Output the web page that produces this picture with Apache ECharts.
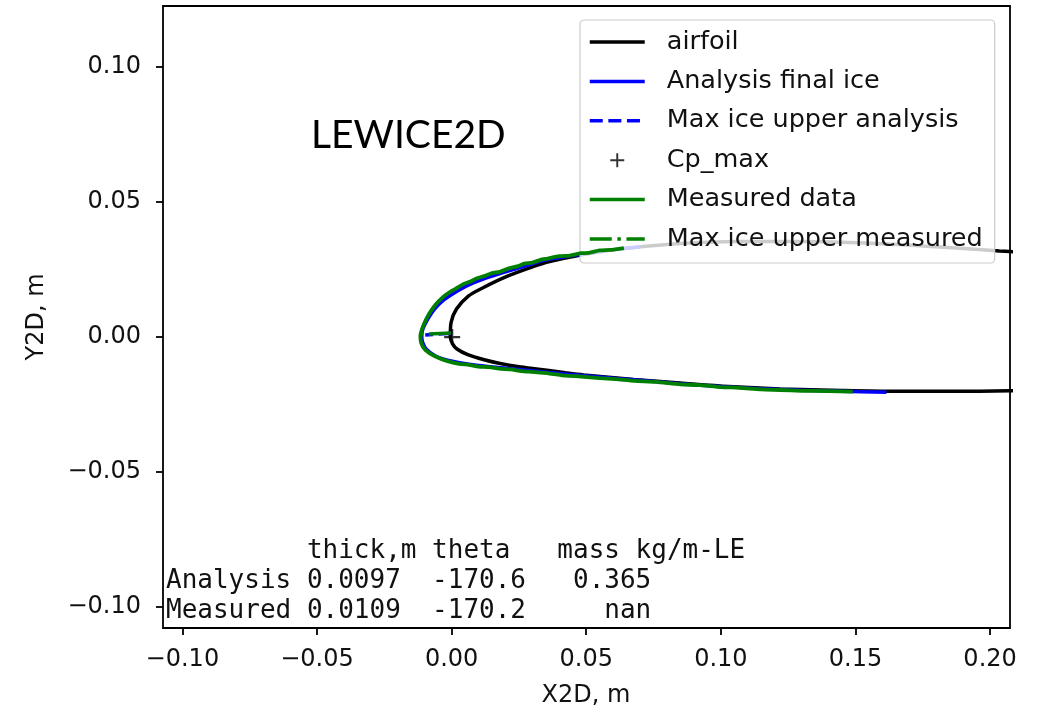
<!DOCTYPE html>
<html>
<head>
<meta charset="utf-8">
<script src="https://cdn.jsdelivr.net/npm/echarts@6/dist/echarts.min.js"></script>
<style>
  html, body { margin: 0; padding: 0; background: #fff; }
  #chart { width: 1040px; height: 711px; }
</style>
</head>
<body>
<div id="chart"></div>
<script>
// Clean airfoil contour, [x, y] in metres: upper surface aft -> leading edge -> lower surface aft
const airfoil = [
  [0.215, 0.0312], [0.2035, 0.0317], [0.180, 0.0333], [0.155, 0.0346], [0.1306, 0.0352],
  [0.1059, 0.0352], [0.0813, 0.0342], [0.0628, 0.0325], [0.048, 0.0302], [0.036, 0.0277],
  [0.030, 0.0258], [0.0201, 0.0221], [0.0115, 0.0180], [0.0062, 0.0150], [0.0018, 0.0102],
  [-0.0002, 0.0052], [-0.0005, 0.0000], [0.0003, -0.0026], [0.0020, -0.0046],
  [0.0060, -0.0067], [0.0121, -0.0086], [0.0176, -0.0099], [0.0257, -0.0113], [0.030, -0.0118],
  [0.0423, -0.0134], [0.049, -0.0142], [0.0676, -0.0159], [0.0849, -0.0172], [0.103, -0.0185],
  [0.122, -0.0194], [0.145, -0.0200], [0.165, -0.0203], [0.185, -0.0203], [0.2074, -0.0201],
  [0.215, -0.0200]
];

// LEWICE2D final ice shape
const analysisIce = [
  [0.070, 0.0333], [0.060, 0.0322], [0.048, 0.0305], [0.036, 0.0286], [0.030, 0.0270],
  [0.0201, 0.0240], [0.0115, 0.0212], [0.0060, 0.0190], [0.0020, 0.0168], [-0.0030, 0.0135],
  [-0.0065, 0.0100], [-0.0090, 0.0062], [-0.0106, 0.0030], [-0.0111, 0.0005], [-0.0108, -0.0020],
  [-0.0093, -0.0048], [-0.0060, -0.0072], [-0.0015, -0.0088], [0.0030, -0.0097], [0.0100, -0.0107],
  [0.0176, -0.0115], [0.030, -0.0127], [0.0423, -0.0139], [0.055, -0.0150], [0.070, -0.0162],
  [0.085, -0.0175], [0.100, -0.0185], [0.115, -0.0193], [0.130, -0.0199], [0.145, -0.0203],
  [0.1615, -0.0206]
];

// Maximum ice thickness direction, analysis
const maxIceAnalysis = [[0.0000, 0.0012], [-0.0098, 0.0006]];

// Stagnation point (Cp max)
const cpMax = [[0.0002, -0.0002]];

// Measured (scanned) ice tracing
const measuredIce = [
  [0.064, 0.0328], [0.059, 0.0321], [0.055, 0.0319], [0.051, 0.0310], [0.048, 0.0309],
  [0.044, 0.0300], [0.040, 0.0298], [0.0356, 0.0289], [0.033, 0.0284], [0.030, 0.0274],
  [0.027, 0.0270], [0.0244, 0.0260], [0.021, 0.0252], [0.018, 0.0240], [0.015, 0.0235],
  [0.0121, 0.0224], [0.0095, 0.0216], [0.0070, 0.0204], [0.0045, 0.0195], [0.0020, 0.0180],
  [-0.0005, 0.0166], [-0.0030, 0.0148], [-0.0060, 0.0118], [-0.0085, 0.0082], [-0.0103, 0.0046],
  [-0.0113, 0.0018], [-0.0116, 0.0002], [-0.0113, -0.0024], [-0.0097, -0.0050], [-0.0060, -0.0074],
  [-0.0015, -0.0091], [0.0028, -0.0101], [0.0065, -0.0105], [0.0100, -0.0111], [0.0140, -0.0113],
  [0.0176, -0.0119], [0.022, -0.0122], [0.026, -0.0128], [0.030, -0.0131], [0.036, -0.0136],
  [0.0423, -0.0145], [0.048, -0.0148], [0.055, -0.0154], [0.061, -0.0158], [0.068, -0.0164],
  [0.076, -0.0168], [0.085, -0.0177], [0.092, -0.0180], [0.100, -0.0187], [0.107, -0.0190],
  [0.115, -0.0196], [0.122, -0.0198], [0.130, -0.0201], [0.140, -0.0202], [0.149, -0.0204]
];

// Maximum ice thickness direction, measured
const maxIceMeasured = [[-0.0003, 0.0013], [-0.0110, 0.0008]];

const xTicks = [-0.10, -0.05, 0.00, 0.05, 0.10, 0.15, 0.20];
const yTicks = [-0.10, -0.05, 0.00, 0.05, 0.10];

const legendNames = ['airfoil', 'Analysis final ice', 'Max ice upper analysis', 'Cp_max', 'Measured data', 'Max ice upper measured'];

const tableLines = [
  '         thick,m theta   mass kg/m-LE',
  'Analysis 0.0097  -170.6   0.365',
  'Measured 0.0109  -170.2     nan'
];

const titleText = 'LEWICE2D';

function tickFmt(v) {
  const s = Math.abs(v).toFixed(2);
  return (v < -1e-9 ? '\u2212' : '') + s;
}

const chart = echarts.init(document.getElementById('chart'), null, { renderer: 'canvas' });

const LW = 3.5;
const axisFont = { fontFamily: 'DejaVu Sans', fontSize: 24, color: '#111' };
const plusPath = 'path://M0.43,0 H0.57 V0.43 H1 V0.57 H0.57 V1 H0.43 V0.57 H0 V0.43 H0.43 Z';

// legend entries: line entries show only their stroke, the stagnation point shows its '+' marker
const legendData = legendNames.map(function (n) {
  return n === 'Cp_max'
    ? { name: n }
    : { name: n, itemStyle: { opacity: 0 }, lineStyle: { width: LW } };
});

chart.setOption({
  animation: false,
  backgroundColor: '#fff',
  grid: {
    left: 163, right: 30, top: 6, bottom: 83,
    show: true, borderColor: '#000', borderWidth: 1.8, backgroundColor: 'transparent'
  },
  xAxis: {
    type: 'value', min: -0.1072, max: 0.2074,
    axisLine: { show: false, onZero: false },
    splitLine: { show: false },
    axisTick: { show: true, length: 7, lineStyle: { color: '#000', width: 1.8 }, customValues: xTicks },
    axisLabel: { ...axisFont, margin: 20, customValues: xTicks, formatter: tickFmt }
  },
  yAxis: {
    type: 'value', min: -0.1080, max: 0.1225,
    axisLine: { show: false, onZero: false },
    splitLine: { show: false },
    axisTick: { show: true, length: 7, lineStyle: { color: '#000', width: 1.8 }, customValues: yTicks },
    axisLabel: { ...axisFont, margin: 22, customValues: yTicks, formatter: tickFmt }
  },
  legend: {
    data: legendData,
    orient: 'vertical',
    left: 580, top: 20,
    itemWidth: 55, itemHeight: 14,
    itemGap: 11.4,
    padding: [8, 12, 10, 8],
    backgroundColor: 'rgba(255,255,255,0.8)',
    borderColor: '#cccccc', borderWidth: 1.2, borderRadius: 4,
    selectedMode: false,
    textStyle: { fontFamily: 'DejaVu Sans', fontSize: 25.5, lineHeight: 28, color: '#111', padding: [0, 0, 0, 17] }
  },
  series: [
    {
      name: 'airfoil', type: 'line', data: airfoil, symbol: 'none', z: 2, smooth: 0.3,
      lineStyle: { color: '#000000', width: LW }, itemStyle: { color: '#000000' }
    },
    {
      name: 'Analysis final ice', type: 'line', data: analysisIce, symbol: 'none', z: 3, smooth: 0.3,
      lineStyle: { color: '#0000ff', width: LW }, itemStyle: { color: '#0000ff' }
    },
    {
      name: 'Max ice upper analysis', type: 'line', data: maxIceAnalysis, symbol: 'none', z: 3,
      lineStyle: { color: '#0000ff', width: LW, type: [13, 5.6] }, itemStyle: { color: '#0000ff' }
    },
    {
      name: 'Cp_max', type: 'scatter', data: cpMax, z: 6,
      symbol: plusPath,
      symbolSize: 16,
      itemStyle: { color: '#000000' }
    },
    {
      name: 'Measured data', type: 'line', data: measuredIce, symbol: 'none', z: 4, smooth: 0.2,
      lineStyle: { color: '#008000', width: 3.8 }, itemStyle: { color: '#008000' }
    },
    {
      name: 'Max ice upper measured', type: 'line', data: maxIceMeasured, symbol: 'none', z: 5,
      lineStyle: { color: '#008000', width: LW, type: [22, 5.6, 3.5, 5.6] }, itemStyle: { color: '#008000' }
    }
  ],
  graphic: [
    {
      type: 'text', left: 311, top: 116, z: 10,
      style: { text: titleText, font: '39px Lato', fill: '#000' }
    },
    {
      type: 'text', x: 586, y: 696, z: 10,
      style: { text: 'X2D, m', font: '24px "DejaVu Sans"', fill: '#111', align: 'center', verticalAlign: 'middle' }
    },
    {
      type: 'text', x: 37, y: 317, rotation: Math.PI / 2, z: 10,
      style: { text: 'Y2D, m', font: '24px "DejaVu Sans"', fill: '#111', align: 'center', verticalAlign: 'middle' }
    },
    {
      type: 'text', x: 166, y: 551, z: 10,
      style: { text: tableLines[0], font: '26px "DejaVu Sans Mono"', fill: '#111', verticalAlign: 'middle' }
    },
    {
      type: 'text', x: 166, y: 581.5, z: 10,
      style: { text: tableLines[1], font: '26px "DejaVu Sans Mono"', fill: '#111', verticalAlign: 'middle' }
    },
    {
      type: 'text', x: 166, y: 611, z: 10,
      style: { text: tableLines[2], font: '26px "DejaVu Sans Mono"', fill: '#111', verticalAlign: 'middle' }
    }
  ]
});
</script>
</body>
</html>
